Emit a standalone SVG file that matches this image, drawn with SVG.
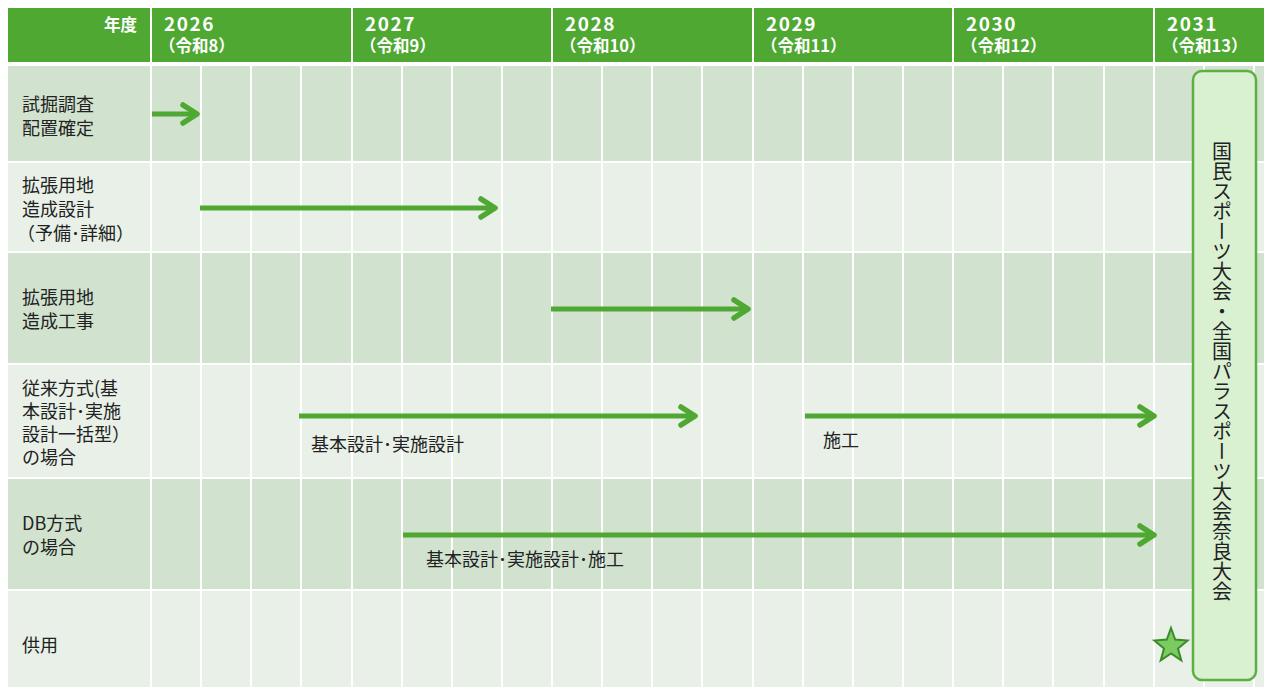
<svg xmlns="http://www.w3.org/2000/svg" width="1264" height="687" viewBox="0 0 1264 687">
<style>
.hdr{fill:#4ea832}
.dk{fill:#d1e2cf}
.lt{fill:#e8f0e7}
.gl{stroke:#ffffff;stroke-width:2}
.ht{font-family:"Noto Sans CJK JP","Noto Sans",sans-serif;fill:#ffffff;font-weight:bold}
.yr{font-size:19px;letter-spacing:1.5px}
.rw{font-size:16.5px;letter-spacing:0}
.lb{font-family:"Noto Sans CJK JP","Noto Sans",sans-serif;font-size:18px;fill:#222222}
.al{font-family:"Noto Sans CJK JP","Noto Sans",sans-serif;font-size:18px;fill:#222222}
.ar{stroke:#4ea832;stroke-width:5;fill:none}
</style>
<defs>
<marker id="ah" markerUnits="userSpaceOnUse" markerWidth="30" markerHeight="30" refX="0" refY="0" viewBox="-20 -15 30 30" orient="auto" overflow="visible">
<path d="M-14,-9 L0,0 L-14,9" fill="none" stroke="#4ea832" stroke-width="5.5" stroke-linecap="round" stroke-linejoin="round"/>
</marker>
</defs>
<rect width="1264" height="687" fill="#ffffff"/>
<g id="grid">
<rect class="hdr" x="8" y="8" width="1256" height="54"/>
<rect class="dk" x="8" y="66" width="1256" height="95"/>
<rect class="lt" x="8" y="163" width="1256" height="88"/>
<rect class="dk" x="8" y="253" width="1256" height="110"/>
<rect class="lt" x="8" y="365" width="1256" height="112"/>
<rect class="dk" x="8" y="479" width="1256" height="110"/>
<rect class="lt" x="8" y="591" width="1256" height="96"/>
<g class="gl">
<line x1="151" y1="8" x2="151" y2="687"/>
<line x1="352" y1="8" x2="352" y2="687"/>
<line x1="552" y1="8" x2="552" y2="687"/>
<line x1="753" y1="8" x2="753" y2="687"/>
<line x1="953" y1="8" x2="953" y2="687"/>
<line x1="1154" y1="8" x2="1154" y2="687"/>
<line x1="201" y1="62" x2="201" y2="687"/>
<line x1="251" y1="62" x2="251" y2="687"/>
<line x1="301" y1="62" x2="301" y2="687"/>
<line x1="402" y1="62" x2="402" y2="687"/>
<line x1="452" y1="62" x2="452" y2="687"/>
<line x1="502" y1="62" x2="502" y2="687"/>
<line x1="602" y1="62" x2="602" y2="687"/>
<line x1="652" y1="62" x2="652" y2="687"/>
<line x1="702" y1="62" x2="702" y2="687"/>
<line x1="803" y1="62" x2="803" y2="687"/>
<line x1="853" y1="62" x2="853" y2="687"/>
<line x1="903" y1="62" x2="903" y2="687"/>
<line x1="1003" y1="62" x2="1003" y2="687"/>
<line x1="1053" y1="62" x2="1053" y2="687"/>
<line x1="1104" y1="62" x2="1104" y2="687"/>
<line x1="1204" y1="62" x2="1204" y2="687"/>
<line x1="1254" y1="62" x2="1254" y2="687"/>
</g>
<rect x="8" y="62" width="1256" height="4" fill="#ffffff"/>
<rect x="8" y="161" width="1256" height="2" fill="#ffffff"/>
<rect x="8" y="251" width="1256" height="2" fill="#ffffff"/>
<rect x="8" y="363" width="1256" height="2" fill="#ffffff"/>
<rect x="8" y="477" width="1256" height="2" fill="#ffffff"/>
<rect x="8" y="589" width="1256" height="2" fill="#ffffff"/>
</g>
<g id="header">
<text class="ht rw" x="137" y="31" text-anchor="end" font-size="17">年度</text>
<text class="ht yr" x="164" y="31">2026<tspan class="rw" x="159" dy="21">（令和8）</tspan></text>
<text class="ht yr" x="365" y="31">2027<tspan class="rw" x="360" dy="21">（令和9）</tspan></text>
<text class="ht yr" x="565" y="31">2028<tspan class="rw" x="560" dy="21">（令和10）</tspan></text>
<text class="ht yr" x="766" y="31">2029<tspan class="rw" x="761" dy="21">（令和11）</tspan></text>
<text class="ht yr" x="966" y="31">2030<tspan class="rw" x="961" dy="21">（令和12）</tspan></text>
<text class="ht yr" x="1167" y="31">2031<tspan class="rw" x="1162" dy="21">（令和13）</tspan></text>
</g>
<g id="labels">
<text class="lb" x="22" y="111">試掘調査<tspan x="22" dy="24">配置確定</tspan></text>
<text class="lb" x="22" y="192">拡張用地<tspan x="22" dy="24">造成設計</tspan><tspan x="17" dy="24">（予備･詳細）</tspan></text>
<text class="lb" x="22" y="304">拡張用地<tspan x="22" dy="24">造成工事</tspan></text>
<text class="lb" x="22" y="395">従来方式(基<tspan x="22" dy="23">本設計･実施</tspan><tspan x="22" dy="23">設計一括型）</tspan><tspan x="22" dy="23">の場合</tspan></text>
<text class="lb" x="22" y="530">DB方式<tspan x="22" dy="24">の場合</tspan></text>
<text class="lb" x="22" y="652">供用</text>
</g>
<g id="connectors">
<line class="ar" x1="152" y1="114" x2="197" y2="114" marker-end="url(#ah)"/>
<line class="ar" x1="200" y1="208" x2="495" y2="208" marker-end="url(#ah)"/>
<line class="ar" x1="551" y1="309" x2="748" y2="309" marker-end="url(#ah)"/>
<line class="ar" x1="299" y1="416" x2="695" y2="416" marker-end="url(#ah)"/>
<line class="ar" x1="805" y1="416" x2="1154" y2="416" marker-end="url(#ah)"/>
<line class="ar" x1="403" y1="535" x2="1154" y2="535" marker-end="url(#ah)"/>
</g>
<g id="arrow-labels">
<text class="al" x="311" y="451">基本設計･実施設計</text>
<text class="al" x="823" y="447">施工</text>
<text class="al" x="426" y="566">基本設計･実施設計･施工</text>
</g>
<g id="event">
<rect x="1193" y="71" width="63" height="609" rx="9" ry="9" fill="#d9f1d1" stroke="#5cb043" stroke-width="2.5"/>
<text x="1222" y="141" font-family="Noto Sans CJK JP, sans-serif" font-size="20" fill="#222222" style="writing-mode:vertical-rl">国民スポーツ大会・全国パラスポーツ大会奈良大会</text>
</g>
<g id="star">
<polygon points="1171,628 1175.2,639.6 1187.6,640.6 1178,648.5 1181.3,660.4 1171,653.5 1160.7,660.4 1164,648.5 1154.4,640.6 1166.8,639.6" fill="#7ccb61" stroke="#3d8a2a" stroke-width="2"/>
</g>
</svg>
